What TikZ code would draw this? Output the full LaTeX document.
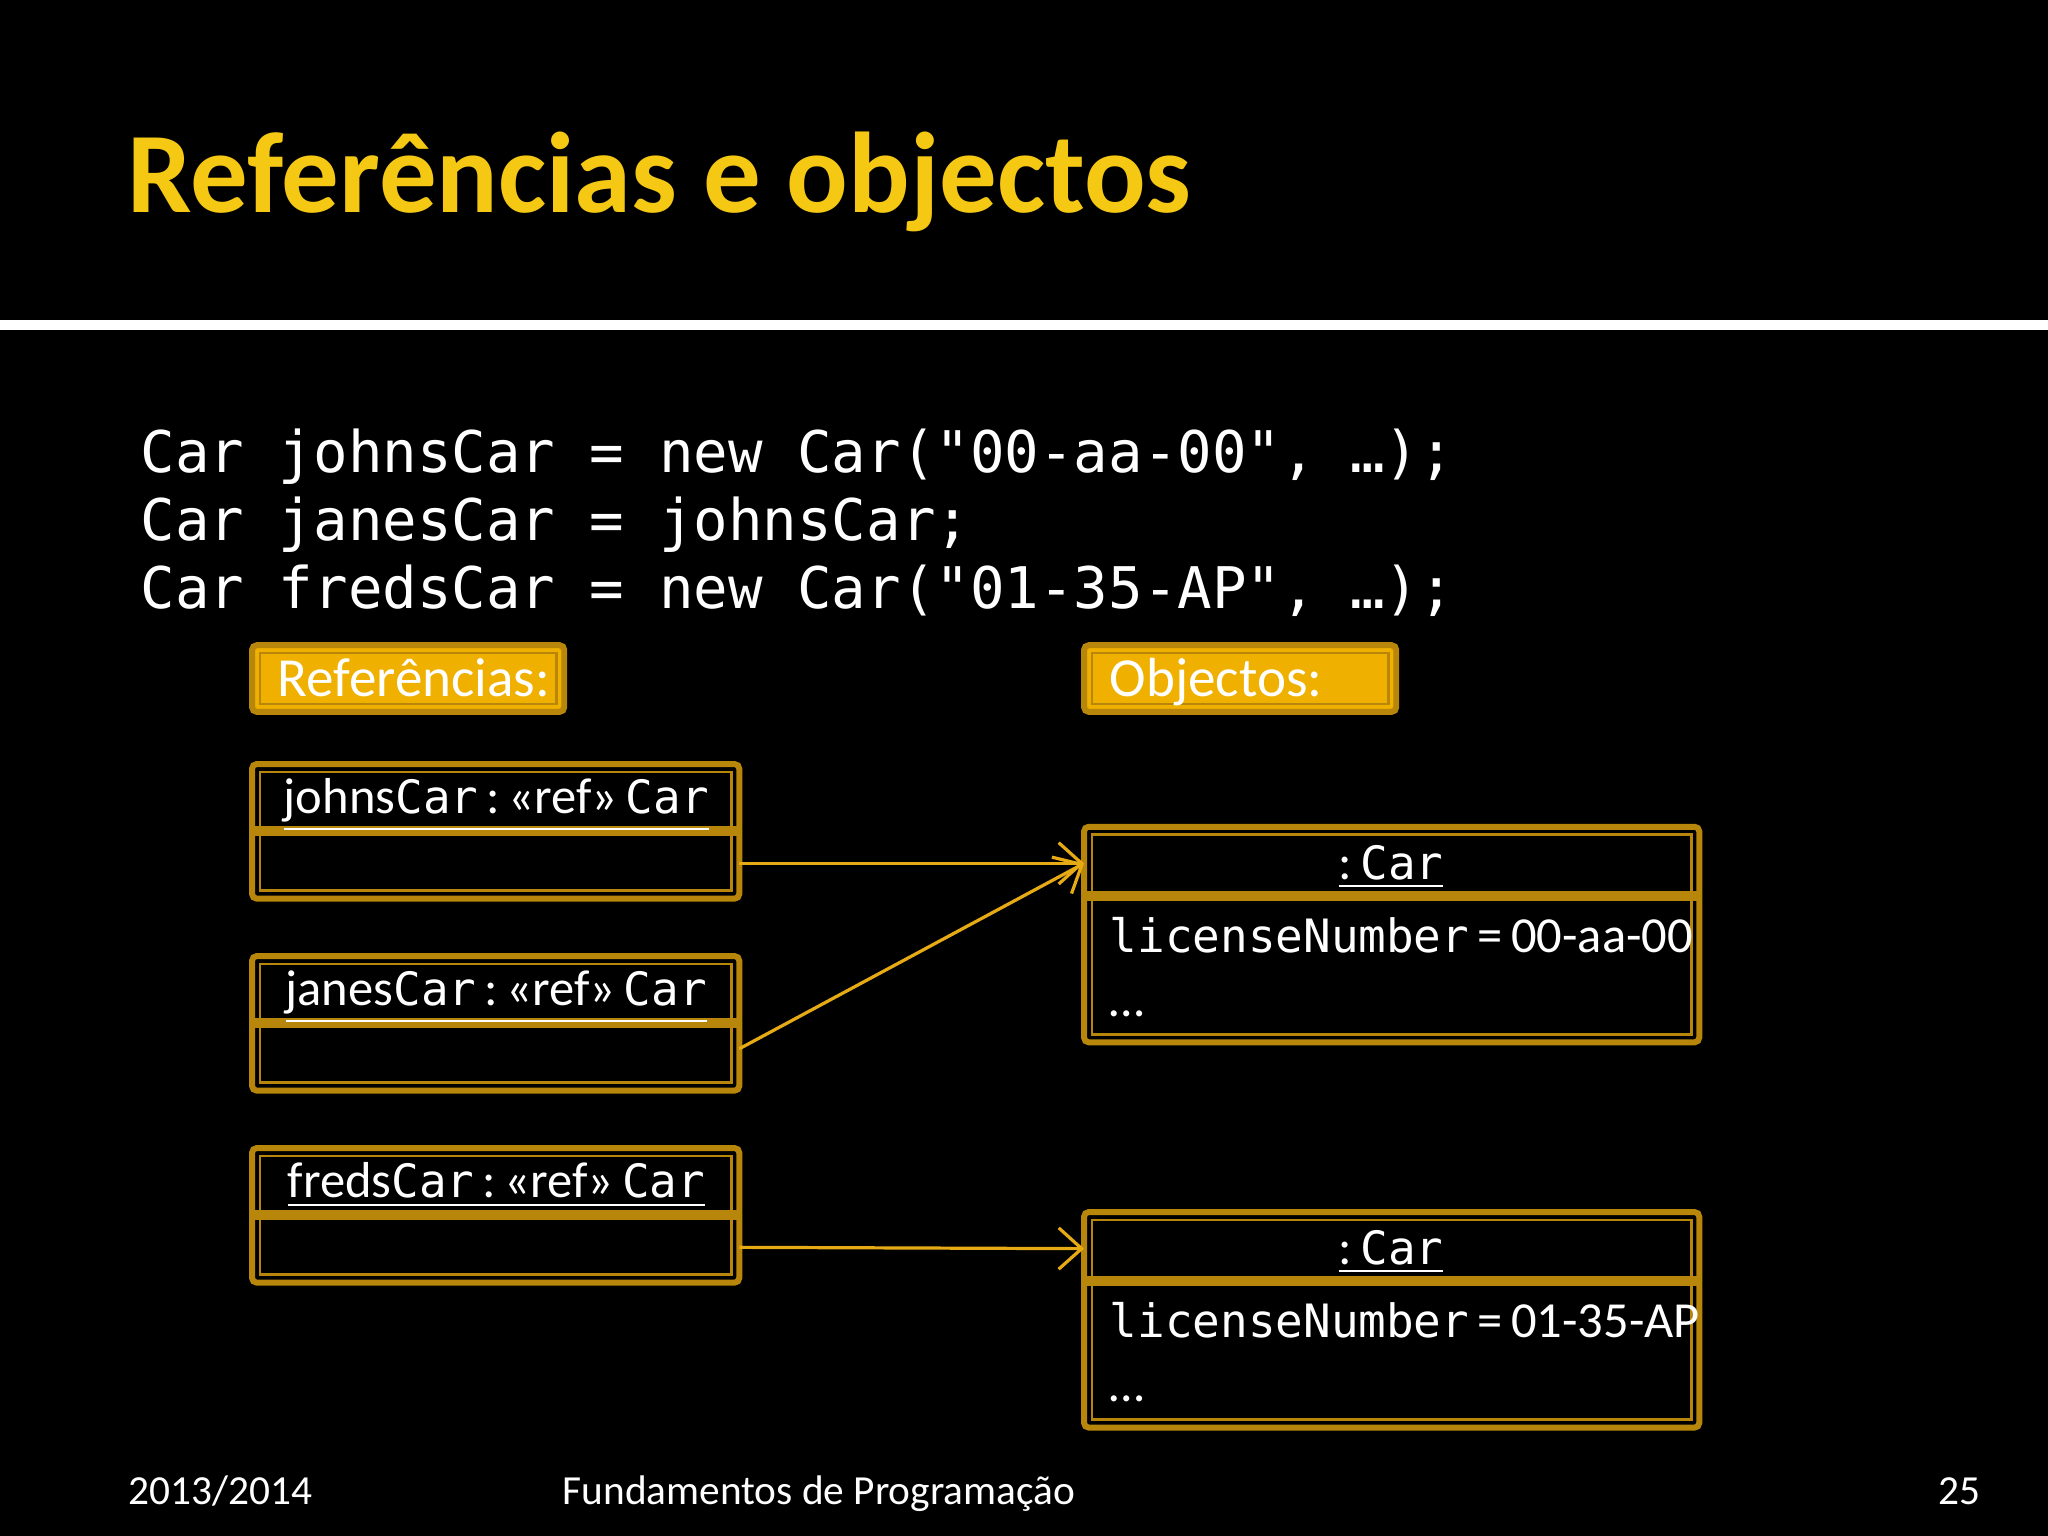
\documentclass[tikz,border=0pt]{standalone}
\usepackage{fontspec}
\setmainfont{Carlito}
\setmonofont{DejaVu Sans Mono}
\usetikzlibrary{arrows.meta}
\definecolor{gold}{RGB}{184,134,11}
\definecolor{amber}{RGB}{240,176,0}
\definecolor{titley}{RGB}{245,200,20}
\definecolor{arr}{RGB}{230,170,20}
\tikzset{
  outerb/.style={draw=gold,line width=1.3pt,rounded corners=1pt},
  innerb/.style={draw=gold,line width=0.6pt},
  divl/.style={draw=gold,line width=2.2pt},
  lbl/.style={text=white,font=\fontsize{11}{13}\selectfont,inner sep=0pt},
  ptr/.style={draw=arr,line width=0.7pt,-{Straight Barb[length=5pt,width=9pt]}},
}
\newcommand{\refbox}[3]{% name, top y, label
  \draw[outerb] (193,#2) rectangle (566,#2+103);
  \draw[innerb] (199,#2+6) rectangle (560,#2+97);
  \draw[divl] (195,#2+51) -- (564,#2+51);
  \node[lbl,anchor=base] (#1) at (380,#2+38) {\underline{#3}};
  \coordinate (#1e) at (566,#2+76);
}
\newcommand{\objbox}[3]{% name, top y, value
  \draw[outerb] (830,#2) rectangle (1301,#2+165);
  \draw[innerb] (836,#2+6) rectangle (1295,#2+159);
  \draw[divl] (832,#2+53) -- (1299,#2+53);
  \node[lbl,anchor=base] (#1) at (1065,#2+40) {\underline{:\,\texttt{\fontsize{10}{12}\selectfont Car}}};
  \node[lbl,anchor=base west] (#1v) at (849,#2+96) {\texttt{\fontsize{10}{12}\selectfont licenseNumber}\,=\,#3};
  \node[lbl,anchor=base west] at (849,#2+145) {\ldots};
  \coordinate (#1w) at (830,#2+28);
}
\begin{document}
\begin{tikzpicture}[x=0.01cm,y=-0.01cm]
\fill[black] (0,0) rectangle (1568,1176);
\useasboundingbox (0,0) rectangle (1568,1176);
\node[anchor=base west,inner sep=0pt,text=titley,font=\bfseries\fontsize{25}{30}\selectfont] (title) at (97,163) {Referências e objectos};
\fill[white] (0,245) rectangle (1568,253);
\node[anchor=base west,inner sep=0pt,text=white,font=\ttfamily\fontsize{12.5}{15}\selectfont,align=left] (code) at (107,362)
 {Car johnsCar = new Car("00-aa-00", …);};
\node[anchor=base west,inner sep=0pt,text=white,font=\ttfamily\fontsize{12.5}{15}\selectfont] at (107,414) {Car janesCar = johnsCar;};
\node[anchor=base west,inner sep=0pt,text=white,font=\ttfamily\fontsize{12.5}{15}\selectfont] at (107,466) {Car fredsCar = new Car("01-35-AP", …);};
% labels
\draw[outerb,fill=amber] (193,494) rectangle (432,545);
\draw[innerb] (199,500) rectangle (426,539);
\node[lbl,anchor=base west,font=\fontsize{12}{14}\selectfont] (refl) at (212,533) {Referências:};
\draw[outerb,fill=amber] (830,494) rectangle (1069,545);
\draw[innerb] (836,500) rectangle (1063,539);
\node[lbl,anchor=base west,font=\fontsize{12}{14}\selectfont] (objl) at (849,533) {Objectos:};
\refbox{j}{585}{johns\texttt{\fontsize{10}{12}\selectfont Car}\,:\,«ref»\,\texttt{\fontsize{10}{12}\selectfont Car}}
\refbox{ja}{732}{janes\texttt{\fontsize{10}{12}\selectfont Car}\,:\,«ref»\,\texttt{\fontsize{10}{12}\selectfont Car}}
\refbox{f}{879}{freds\texttt{\fontsize{10}{12}\selectfont Car}\,:\,«ref»\,\texttt{\fontsize{10}{12}\selectfont Car}}
\objbox{o1}{633}{00-aa-00}
\objbox{o2}{928}{01-35-AP}
\draw[ptr] (je) -- (o1w);
\draw[ptr] (jae) ++(0,-5) coordinate (jx) (jx) -- (o1w);
\draw[ptr] (fe) -- (o2w);
\node[anchor=base west,inner sep=0pt,text=white,font=\fontsize{9}{11}\selectfont] (yr) at (98,1152) {2013/2014};
\node[anchor=base,inner sep=0pt,text=white,font=\fontsize{9}{11}\selectfont] (crs) at (627,1152) {Fundamentos de Programação};
\node[anchor=base east,inner sep=0pt,text=white,font=\fontsize{9}{11}\selectfont] (pg) at (1517,1152) {25};
\end{tikzpicture}
\end{document}
